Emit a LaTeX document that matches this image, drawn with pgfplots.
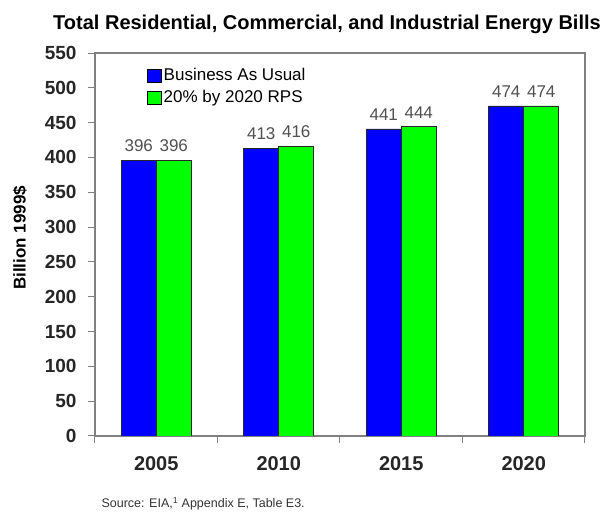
\documentclass[border=0pt]{standalone}
\usepackage{fontspec}
\setmainfont{Liberation Sans}
\usepackage{pgfplots}
\pgfplotsset{compat=1.18}
\definecolor{barblue}{RGB}{0,0,255}
\definecolor{bargreen}{RGB}{0,255,0}
\definecolor{axgray}{RGB}{128,128,128}
\definecolor{valgray}{RGB}{80,80,80}
\begin{document}
\begin{tikzpicture}
\path[use as bounding box] (-95pt,-80pt) rectangle (519pt,436pt);
\begin{axis}[
  at={(0pt,0pt)}, anchor=south west,
  scale only axis, width=490pt, height=383pt,
  /pgf/number format/assume math mode=true,
  ybar=0pt, bar width=35pt,
  xmin=0, xmax=4, ymin=0, ymax=550,
  ytick={0,50,...,550},
  xtick={0.5,1.5,2.5,3.5},
  xticklabels={2005,2010,2015,2020},
  minor xtick={0,1,2,3,4},
  tick pos=left, tick align=outside,
  major tick length=7pt, minor tick length=7pt,
  major x tick style={draw=none},
  every tick/.style={draw=axgray, line width=1pt},
  axis line style={draw=axgray, line width=1.3pt},
  x tick label style={font=\fontsize{20}{24}\selectfont\bfseries, color=black!85, yshift=-10pt},
  y tick label style={font=\fontsize{19}{23}\selectfont\bfseries, color=black!85, xshift=-8pt},
  nodes near coords,
  every node near coord/.append style={font=\fontsize{17}{20}\selectfont, color=valgray, anchor=south, inner sep=0pt, yshift=8pt},
  legend style={draw=none, fill=none, at={(0.106,0.965)}, anchor=north west,
    font=\fontsize{17}{20}\selectfont, row sep=4pt, inner sep=0pt},
  legend cell align=left,
  legend image code/.code={\draw[#1, draw=black, line width=0.6pt] (0pt,-6.5pt) rectangle (14pt,6.5pt);},
]
\addplot[fill=barblue, draw=black!85, line width=0.8pt] coordinates {(0.5,396) (1.5,413) (2.5,441) (3.5,474)};
\addplot[fill=bargreen, draw=black!85, line width=0.8pt] coordinates {(0.5,396) (1.5,416) (2.5,444) (3.5,474)};
\legend{Business As Usual, 20\% by 2020 RPS}
\end{axis}
\node[anchor=base, font=\fontsize{20}{24}\selectfont\bfseries] at (232pt,406pt) {Total Residential, Commercial, and Industrial Energy Bills};
\node[rotate=90, font=\fontsize{17}{20}\selectfont\bfseries] at (-75pt,198pt) {Billion 1999\$};
\node[anchor=base west, font=\fontsize{12.5}{15}\selectfont, color=black!80] at (3pt,-72pt) {Source: EIA,\textsuperscript{1} Appendix E, Table E3.};
\end{tikzpicture}
\end{document}
